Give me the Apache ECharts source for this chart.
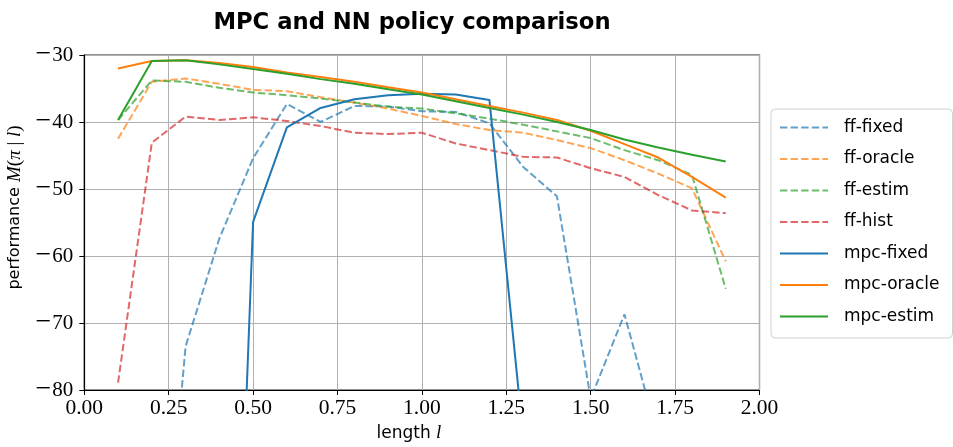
<!DOCTYPE html>
<html>
<head>
<meta charset="utf-8">
<script src="https://cdn.jsdelivr.net/npm/echarts@6/dist/echarts.min.js"></script>
<style>html,body{margin:0;padding:0;background:#fff}#c{width:953px;height:447px}</style>
</head>
<body>
<div id="c"></div>
<script>
const lengths = [0.1,0.2,0.3,0.4,0.5,0.6,0.7,0.8,0.9,1.0,1.1,1.2,1.3,1.4,1.5,1.6,1.7,1.8,1.9];
const ffFixed  = [-150,-130,-73.5,-57.4,-45.4,-37.3,-40.0,-37.6,-37.7,-38.4,-38.5,-40.2,-46.7,-51.1,-81.3,-68.7,-87.2,-92,-90];
const ffOracle = [-42.5,-34.0,-33.5,-34.3,-35.2,-35.4,-36.3,-37.1,-38.0,-39.1,-40.3,-41.2,-41.6,-42.7,-43.9,-45.7,-47.7,-49.9,-60.8];
const ffEstim  = [-39.7,-33.8,-34.0,-34.9,-35.6,-36.0,-36.5,-37.1,-37.7,-38.0,-38.7,-39.5,-40.4,-41.4,-42.4,-44.2,-45.7,-47.9,-64.9];
const ffHist   = [-78.9,-43.1,-39.2,-39.7,-39.3,-39.85,-40.6,-41.6,-41.8,-41.6,-43.2,-44.2,-45.2,-45.3,-46.9,-48.2,-50.9,-53.2,-53.6];
const mpcFixed = [-220,-210,-200,-187,-54.9,-40.8,-37.9,-36.6,-36.0,-35.8,-35.9,-36.7,-87.0,-150,-160,-170,-180,-190,-200];
const mpcOracle= [-32.0,-30.9,-30.8,-31.2,-31.8,-32.6,-33.3,-34.0,-34.8,-35.6,-36.6,-37.6,-38.6,-39.7,-41.3,-43.3,-45.3,-48.2,-51.3];
const mpcEstim = [-39.7,-30.9,-30.8,-31.4,-32.1,-32.8,-33.6,-34.3,-35.1,-35.9,-36.9,-37.9,-38.9,-40.0,-41.2,-42.6,-43.8,-44.9,-45.9];

const seriesDefs = [
  {name:'ff-fixed', data:ffFixed, color:'#1f77b4', dashed:true},
  {name:'ff-oracle', data:ffOracle, color:'#ff7f0e', dashed:true},
  {name:'ff-estim', data:ffEstim, color:'#2ca02c', dashed:true},
  {name:'ff-hist', data:ffHist, color:'#d62728', dashed:true},
  {name:'mpc-fixed', data:mpcFixed, color:'#1f77b4', dashed:false},
  {name:'mpc-oracle', data:mpcOracle, color:'#ff7f0e', dashed:false},
  {name:'mpc-estim', data:mpcEstim, color:'#2ca02c', dashed:false}
];

const serifFont = '"Liberation Serif", "DejaVu Serif", serif';
const sansFont = '"DejaVu Sans", sans-serif';
const yFmt = v => (v < 0 ? '{m|\u2212}{d|' + Math.abs(v) + '}' : '{d|' + v + '}');

const chart = echarts.init(document.getElementById('c'), null, {renderer:'canvas'});
chart.setOption({
  animation:false,
  backgroundColor:'#fff',
  title:{
    text:'MPC and NN policy comparison',
    left:407, top:7, textAlign:'center',
    textStyle:{fontFamily:sansFont, fontWeight:'bold', fontSize:22.7, color:'#000'}
  },
  grid:{left:84.3, right:193.5, top:55, bottom:57, outerBoundsMode:'none', containLabel:false,
    show:true, borderColor:'#222', borderWidth:1.2, backgroundColor:'transparent'},
  legend:{
    orient:'vertical', left:771, top:109,
    padding:[10,13,13,8],
    itemWidth:48, itemHeight:14, itemGap:14.5,
    backgroundColor:'#fff', borderColor:'#d0d0d0', borderWidth:1, borderRadius:4,
    itemStyle:{opacity:0},
    textStyle:{fontFamily:sansFont, fontSize:17, color:'#000', padding:[0,0,0,11]},
    data: seriesDefs.map(s=>s.name)
  },
  xAxis:{
    type:'value', min:0, max:2, interval:0.25,
    name:'{s|length }{i|l}', nameLocation:'middle', nameGap:31,
    nameTextStyle:{padding:[0,26,0,0], rich:{s:{fontFamily:sansFont, fontSize:17, color:'#000'}, i:{fontFamily:serifFont, fontStyle:'italic', fontSize:19, color:'#000'}}},
    axisLine:{show:true, lineStyle:{color:'#000', width:1.2}},
    axisTick:{show:true, inside:false, length:5, lineStyle:{color:'#000', width:1}},
    axisLabel:{margin:7, fontFamily:serifFont, fontSize:21.5, color:'#000', formatter:v=>v.toFixed(2)},
    splitLine:{show:true, lineStyle:{color:'#b0b0b0', width:1}}
  },
  yAxis:{
    type:'value', min:-80, max:-30, interval:10,
    name:'{s|performance }{i|M}{r|(}{i|π}{r| | }{i|l}{r|)}', nameLocation:'middle', nameGap:52, nameRotate:90,
    nameTextStyle:{padding:[0,0,0,30], rich:{s:{fontFamily:sansFont, fontSize:16, color:'#000'}, i:{fontFamily:serifFont, fontStyle:'italic', fontSize:19, color:'#000'}, r:{fontFamily:serifFont, fontSize:19, color:'#000'}}},
    axisLine:{show:true, lineStyle:{color:'#000', width:1.2}},
    axisTick:{show:true, inside:false, length:5, lineStyle:{color:'#000', width:1}},
    axisLabel:{margin:11, color:'#000', formatter:yFmt,
      rich:{m:{fontFamily:serifFont, fontSize:28, color:'#000', padding:[0,1,0,0]}, d:{fontFamily:serifFont, fontSize:21, color:'#000'}}},
    splitLine:{show:true, lineStyle:{color:'#b0b0b0', width:1}}
  },
  series: seriesDefs.map(s=>({
    name:s.name, type:'line', clip:true, symbol:'none', showSymbol:false,
    data: lengths.map((x,i)=>[x, s.data[i]]),
    itemStyle:{color:s.color},
    lineStyle:{color:s.color, width:2, type:s.dashed?[7.4,3.2]:'solid', opacity:s.dashed?0.7:1}
  }))
});
</script>
</body>
</html>
